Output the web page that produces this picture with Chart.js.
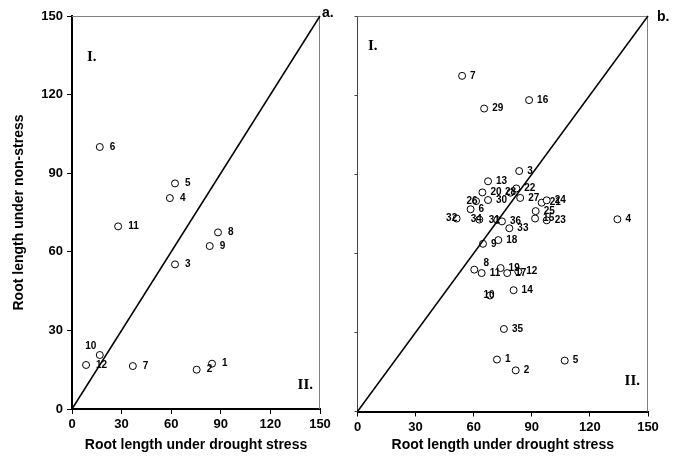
<!DOCTYPE html>
<html>
<head>
<meta charset="utf-8">
<script src="https://cdn.jsdelivr.net/npm/chart.js@4.4.1/dist/chart.umd.min.js"></script>
<style>
  html, body { margin: 0; padding: 0; background: #fff; }
  #wrap { position: relative; width: 678px; height: 471px; }
  canvas { position: absolute; top: 0; }
</style>
</head>
<body>
<div id="wrap">
  <canvas id="panelA" width="340" height="471" style="left:0"></canvas>
  <canvas id="panelB" width="338" height="471" style="left:340px"></canvas>
</div>
<script>
// axis ticks shared by both panels
const axisTicks = [0, 30, 60, 90, 120, 150];
const diagonal = [0, 150];

// panel a: 12 genotypes
const namesA = ["1", "2", "3", "4", "5", "6", "7", "8", "9", "10", "11", "12"];
const droughtA = [84.7, 75.4, 62.3, 59.2, 62.3, 16.8, 36.8, 88.3, 83.3, 16.8, 27.9, 8.5];
const nonStressA = [17.3, 15.0, 55.2, 80.5, 86.1, 100.0, 16.4, 67.4, 62.2, 20.6, 69.7, 16.8];

// panel b: 36 genotypes
const namesB = ["1", "2", "3", "4", "5", "6", "7", "8", "9", "10", "11", "12",
    "13", "14", "15", "16", "17", "18", "19", "20", "21", "22", "23", "24",
    "25", "26", "27", "28", "29", "30", "31", "32", "33", "34", "35", "36"];
const droughtB = [72.0, 81.7, 83.5, 134.2, 107.0, 58.4, 54.0, 60.3, 64.8, 68.4, 64.1, 83.0,
    67.4, 80.6, 91.7, 88.6, 77.3, 72.7, 73.9, 64.5, 95.1, 82.0, 97.7, 97.7,
    92.0, 61.2, 84.0, 79.0, 65.4, 67.4, 72.2, 51.2, 78.4, 62.9, 75.6, 74.6];
const nonStressB = [19.7, 15.6, 91.2, 72.9, 19.3, 76.7, 127.3, 53.8, 63.6, 44.0, 52.5, 53.1,
    87.3, 46.0, 73.2, 118.1, 52.5, 65.0, 54.4, 83.1, 79.2, 84.6, 72.5, 80.1,
    76.0, 79.8, 81.0, 83.0, 114.9, 80.2, 72.6, 73.2, 69.5, 72.8, 31.3, 72.1];

const SANS = "'Liberation Sans', Arial, sans-serif";
const SERIF = "'Liberation Serif', 'Times New Roman', serif";

// label placement exceptions: [dx, dy, align]
const shiftA = { "10": [-9, -9, "center"] };
const shiftB = {
    "8": [12, -6, "center"], "10": [-1, 0, "center"], "26": [-4, 0, "center"],
    "28": [0, 0, "center"], "32": [-5, 0, "center"], "34": [-3, 0, "center"],
    "31": [-3, 0, "center"]
};

function annotations(names, shift, dx, marks) {
    return {
        id: "annotations",
        beforeDatasetsDraw(chart) {
            const { ctx, chartArea: a } = chart;
            ctx.save();
            ctx.strokeStyle = "#808080";
            ctx.lineWidth = 1;
            ctx.beginPath();
            ctx.moveTo(a.left, a.top + 0.5);
            ctx.lineTo(a.right - 0.5, a.top + 0.5);
            ctx.lineTo(a.right - 0.5, a.bottom);
            ctx.stroke();
            ctx.restore();
        },
        afterDatasetsDraw(chart) {
            const { ctx, chartArea: a } = chart;
            const meta = chart.getDatasetMeta(1);
            ctx.save();
            ctx.fillStyle = "#000";
            ctx.textBaseline = "middle";
            ctx.font = "bold 10px " + SANS;
            meta.data.forEach(function (el, i) {
                const s = shift[names[i]] || [dx, 0, "left"];
                ctx.textAlign = s[2];
                ctx.fillText(names[i], el.x + s[0], el.y + s[1]);
            });
            ctx.font = "bold 15px " + SERIF;
            ctx.textAlign = "left";
            ctx.fillText("I.", a.left + marks.one[0], a.top + marks.one[1]);
            ctx.textAlign = "right";
            ctx.fillText("II.", a.right + marks.two[0], a.bottom + marks.two[1]);
            ctx.font = "bold 14px " + SANS;
            ctx.textAlign = "left";
            ctx.textBaseline = "alphabetic";
            ctx.fillText(marks.letter, a.right + marks.letterPos[0], marks.letterPos[1]);
            ctx.restore();
        }
    };
}

function makePanel(id, names, xs, ys, opt) {
    const pts = xs.map(function (x, i) { return { x: x, y: ys[i] }; });
    const tickFont = { family: SANS, size: 13, weight: "bold" };
    const titleFont = { family: SANS, size: 14, weight: "bold" };
    new Chart(document.getElementById(id).getContext("2d"), {
        type: "scatter",
        data: {
            datasets: [
                {
                    data: diagonal.map(function (v) { return { x: v, y: v }; }),
                    showLine: true,
                    borderColor: "#000",
                    borderWidth: 1.5,
                    pointRadius: 0,
                    clip: false
                },
                {
                    data: pts,
                    pointRadius: 3.5,
                    pointBackgroundColor: "#fff",
                    pointBorderColor: "#000",
                    pointBorderWidth: 1,
                    clip: false
                }
            ]
        },
        options: {
            responsive: false,
            animation: false,
            layout: { padding: { left: 0, top: 16, right: opt.padRight, bottom: 0 } },
            plugins: { legend: { display: false }, tooltip: { enabled: false } },
            scales: {
                x: {
                    type: "linear",
                    min: axisTicks[0],
                    max: axisTicks[axisTicks.length - 1],
                    ticks: { stepSize: axisTicks[1] - axisTicks[0], color: "#000", font: tickFont, padding: 3, maxRotation: 0 },
                    grid: { drawOnChartArea: false, drawTicks: true, tickLength: 5, color: "#000" },
                    border: { display: true, color: "#000", width: 2 },
                    title: { display: true, text: "Root length under drought stress", color: "#000", font: titleFont, padding: { top: 0, bottom: 17 } },
                    afterFit: function (s) { s.height = opt.xHeight; }
                },
                y: {
                    type: "linear",
                    min: axisTicks[0],
                    max: axisTicks[axisTicks.length - 1],
                    ticks: { stepSize: axisTicks[1] - axisTicks[0], color: "#000", font: tickFont, padding: 4, display: opt.yLabels },
                    grid: { drawOnChartArea: false, drawTicks: true, tickLength: opt.yLabels ? 5 : 3, color: opt.yBorder },
                    border: { display: true, color: opt.yBorder, width: opt.yBorderWidth },
                    title: { display: opt.yLabels, text: "Root length under non-stress", color: "#000", font: titleFont, padding: { top: 11, bottom: 0 } },
                    afterFit: function (s) { s.width = opt.yWidth; }
                }
            }
        },
        plugins: [annotations(names, opt.shift, opt.dx, opt.marks)]
    });
}

makePanel("panelA", namesA, droughtA, nonStressA, {
    padRight: 20, xHeight: 62, yWidth: 72, yLabels: true, yBorder: "#000", yBorderWidth: 2,
    shift: shiftA, dx: 10,
    marks: { one: [15, 41], two: [-7, -24], letter: "a.", letterPos: [2, 17] }
});

makePanel("panelB", namesB, droughtB, nonStressB, {
    padRight: 30, xHeight: 59.5, yWidth: 17.5, yLabels: false, yBorder: "#444", yBorderWidth: 1,
    shift: shiftB, dx: 8,
    marks: { one: [10.5, 30], two: [-8, -30], letter: "b.", letterPos: [9, 21] }
});
</script>
</body>
</html>
